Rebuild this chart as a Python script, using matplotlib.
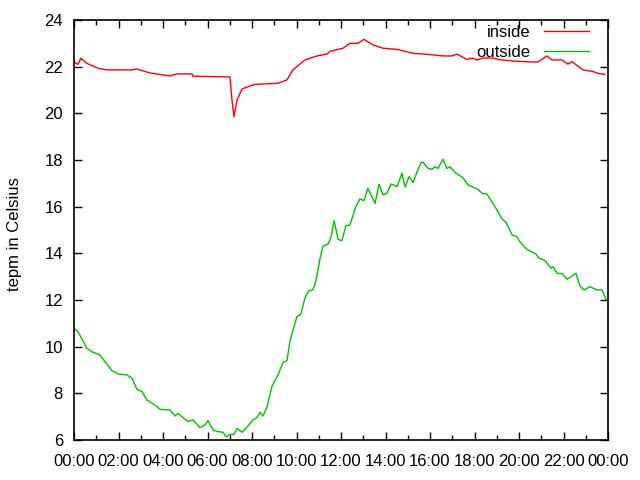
import matplotlib
matplotlib.use("Agg")
import matplotlib.pyplot as plt
from matplotlib.ticker import MultipleLocator, FuncFormatter

# hours since midnight, temperature in Celsius
inside_h = [0.0, 0.18, 0.31, 0.58, 1.08, 1.48, 2.61, 2.83, 3.42, 4.31, 4.63, 5.30, 5.35,
            7.01, 7.10, 7.19, 7.33, 7.55, 7.82, 8.13, 9.17, 9.57, 9.84, 10.38, 10.92,
            11.37, 11.51, 12.09, 12.40, 12.76, 13.03, 13.44, 13.89, 14.52, 15.24, 15.87,
            16.58, 16.99, 17.21, 17.66, 17.89, 18.11, 18.38, 18.83, 19.15, 19.91, 20.63,
            20.85, 21.26, 21.48, 21.93, 22.20, 22.38, 22.88, 23.33, 23.55, 23.87]
inside_t = [22.2, 22.1, 22.36, 22.14, 21.93, 21.86, 21.86, 21.9, 21.73, 21.6, 21.69, 21.69, 21.59,
            21.56, 20.57, 19.86, 20.57, 21.04, 21.14, 21.24, 21.29, 21.43, 21.86, 22.29, 22.46,
            22.54, 22.66, 22.79, 23.0, 23.0, 23.17, 22.93, 22.79, 22.74, 22.57, 22.53,
            22.46, 22.46, 22.54, 22.31, 22.37, 22.29, 22.37, 22.37, 22.29, 22.23, 22.2,
            22.2, 22.46, 22.29, 22.29, 22.11, 22.21, 21.86, 21.79, 21.71, 21.67]

outside_h = [0.0, 0.18, 0.58, 0.81, 1.17, 1.39, 1.71, 1.98, 2.38, 2.61, 2.83, 3.06, 3.28,
             3.64, 3.87, 4.31, 4.54, 4.67, 5.12, 5.35, 5.66, 5.89, 6.02, 6.25, 6.47, 6.70,
             6.83, 7.01, 7.19, 7.33, 7.55, 7.82, 8.04, 8.22, 8.36, 8.49, 8.67, 8.90, 9.17,
             9.39, 9.57, 9.71, 10.02, 10.20, 10.38, 10.56, 10.74, 10.88, 11.06, 11.19,
             11.42, 11.55, 11.69, 11.87, 12.04, 12.22, 12.40, 12.67, 12.85, 13.03, 13.21,
             13.53, 13.71, 13.89, 14.07, 14.25, 14.52, 14.74, 14.88, 15.06, 15.24, 15.42,
             15.60, 15.69, 15.91, 16.09, 16.22, 16.36, 16.58, 16.76, 16.90, 17.12, 17.48,
             17.71, 18.16, 18.34, 18.56, 18.92, 19.24, 19.42, 19.69, 19.91, 20.04, 20.36,
             20.76, 20.90, 21.17, 21.44, 21.53, 21.71, 21.93, 22.16, 22.38, 22.56, 22.74,
             22.92, 23.19, 23.51, 23.73, 23.91]
outside_t = [10.79, 10.64, 9.93, 9.78, 9.64, 9.36, 8.97, 8.83, 8.79, 8.64, 8.17, 8.07, 7.71,
             7.5, 7.31, 7.29, 7.03, 7.14, 6.79, 6.86, 6.53, 6.64, 6.83, 6.43, 6.36, 6.33,
             6.14, 6.24, 6.24, 6.5, 6.33, 6.6, 6.86, 6.96, 7.19, 7.03, 7.4, 8.31, 8.79,
             9.33, 9.39, 10.25, 11.29, 11.4, 12.1, 12.4, 12.43, 12.86, 13.79, 14.31,
             14.4, 14.69, 15.4, 14.6, 14.54, 15.19, 15.21, 16.0, 16.33, 16.26, 16.79,
             16.14, 16.96, 16.5, 16.57, 16.97, 16.86, 17.43, 16.84, 17.29, 17.04, 17.5,
             17.9, 17.9, 17.64, 17.6, 17.71, 17.64, 18.03, 17.64, 17.71, 17.47, 17.24,
             16.93, 16.74, 16.57, 16.54, 16.0, 15.47, 15.33, 14.79, 14.71, 14.5, 14.17,
             13.97, 13.79, 13.69, 13.36, 13.43, 13.14, 13.14, 12.89, 13.03, 13.14, 12.6,
             12.43, 12.57, 12.43, 12.43, 12.03]

plt.rcParams['font.family'] = ['Liberation Sans', 'DejaVu Sans']
plt.rcParams['font.size'] = 12

fig = plt.figure(figsize=(6.4, 4.8), dpi=100)
ax = fig.add_axes([74 / 640, 40 / 480, 534 / 640, 420 / 480])

ax.plot(inside_h, inside_t, color='#ff0000', lw=1, label='inside')
ax.plot(outside_h, outside_t, color='#00c000', lw=1, label='outside')

ax.set_xlim(0, 24)
ax.set_ylim(6, 24)
ax.xaxis.set_major_locator(MultipleLocator(2))
ax.xaxis.set_minor_locator(MultipleLocator(1))
ax.yaxis.set_major_locator(MultipleLocator(2))
ax.xaxis.set_major_formatter(FuncFormatter(lambda v, p: '%02d:00' % (int(round(v)) % 24)))
ax.tick_params(which='both', direction='in', top=True, right=True, color='black')
ax.tick_params(which='major', length=6, width=1)
ax.tick_params(which='minor', length=3.5, width=1)
ax.tick_params(axis='x', pad=10)
ax.tick_params(axis='y', pad=8)
for s in ax.spines.values():
    s.set_linewidth(1.2)

ax.set_ylabel('tepm in Celsius')
ax.yaxis.set_label_coords(-0.098, 0.49)

ax.legend(loc='upper right', bbox_to_anchor=(589 / 640, 1 - 25 / 480),
          bbox_transform=fig.transFigure, frameon=False, markerfirst=False,
          handlelength=2.7, borderpad=0, borderaxespad=0, labelspacing=0.3,
          handletextpad=0.8)

fig.savefig('out.png', dpi=100)
